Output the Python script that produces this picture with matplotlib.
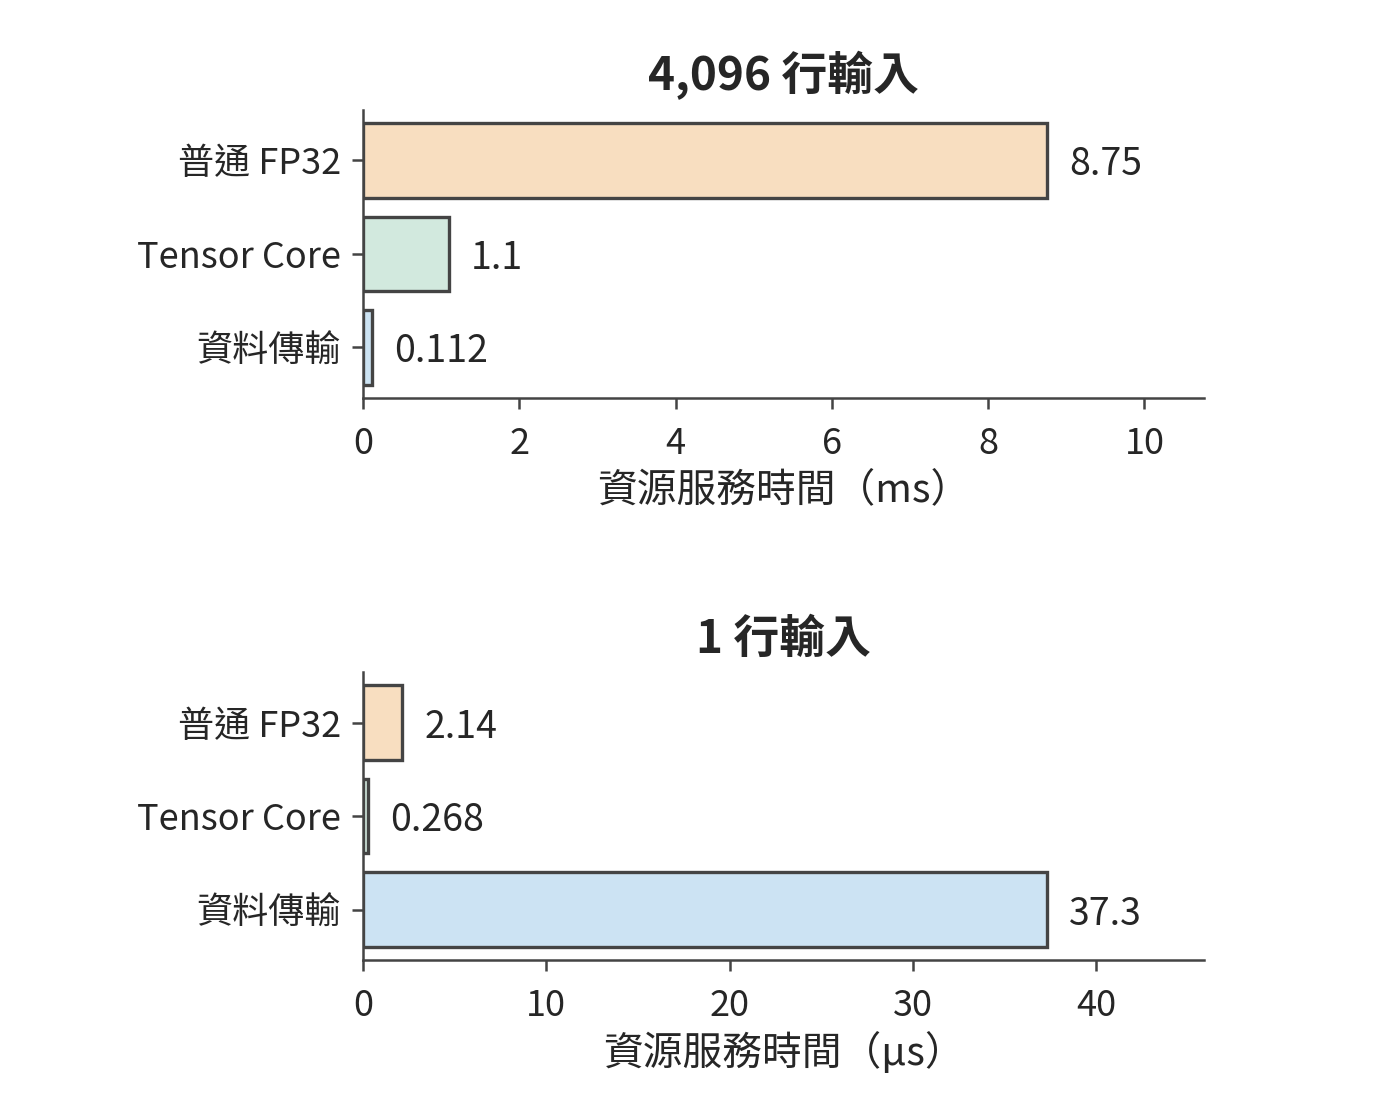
import matplotlib
matplotlib.use('Agg')
import matplotlib.pyplot as plt

plt.rcParams['font.family'] = ['Noto Sans CJK TC', 'DejaVu Sans']

categories = ['普通 FP32', 'Tensor Core', '資料傳輸']
colors = ['#f8dec0', '#d2e9de', '#cce3f3']
panels = [
    ('4,096 行輸入', [8.75, 1.1, 0.112], '資源服務時間（ms）'),
    ('1 行輸入', [2.14, 0.268, 37.3], '資源服務時間（µs）'),
]

fig = plt.figure(figsize=(7, 5.52), dpi=200)
boxes = [[0.2593, 0.6395, 0.6007, 0.2609],
         [0.2593, 0.1304, 0.6007, 0.2609]]
dark = '#444444'
text_c = '#262626'

for box, (title, vals, xlabel) in zip(boxes, panels):
    ax = fig.add_axes(box)
    ypos = range(len(categories))
    bars = ax.barh(ypos, vals, height=0.8, color=colors,
                   edgecolor=dark, linewidth=1.2)
    ax.set_yticks(list(ypos))
    ax.set_yticklabels(categories)
    ax.invert_yaxis()
    ax.set_xlim(0, max(vals) * 1.23)
    labels = ax.bar_label(bars, fmt='%.3g', padding=8, fontsize=13.5,
                          color=text_c)
    for t in labels:
        t.set_verticalalignment('center_baseline')
    ax.set_title(title, fontsize=16.5, fontweight='bold', color=text_c,
                 pad=7)
    ax.set_xlabel(xlabel, fontsize=14.3, color=text_c, labelpad=3)
    for s in ['top', 'right']:
        ax.spines[s].set_visible(False)
    for s in ['left', 'bottom']:
        ax.spines[s].set_color(dark)
        ax.spines[s].set_linewidth(0.9)
    ax.tick_params(axis='both', labelsize=13, colors=dark, labelcolor=text_c,
                   length=4, width=0.9)
    ax.tick_params(axis='y', pad=4)
    ax.tick_params(axis='x', pad=6)

plt.savefig('out.png', dpi=200)
plt.close(fig)
